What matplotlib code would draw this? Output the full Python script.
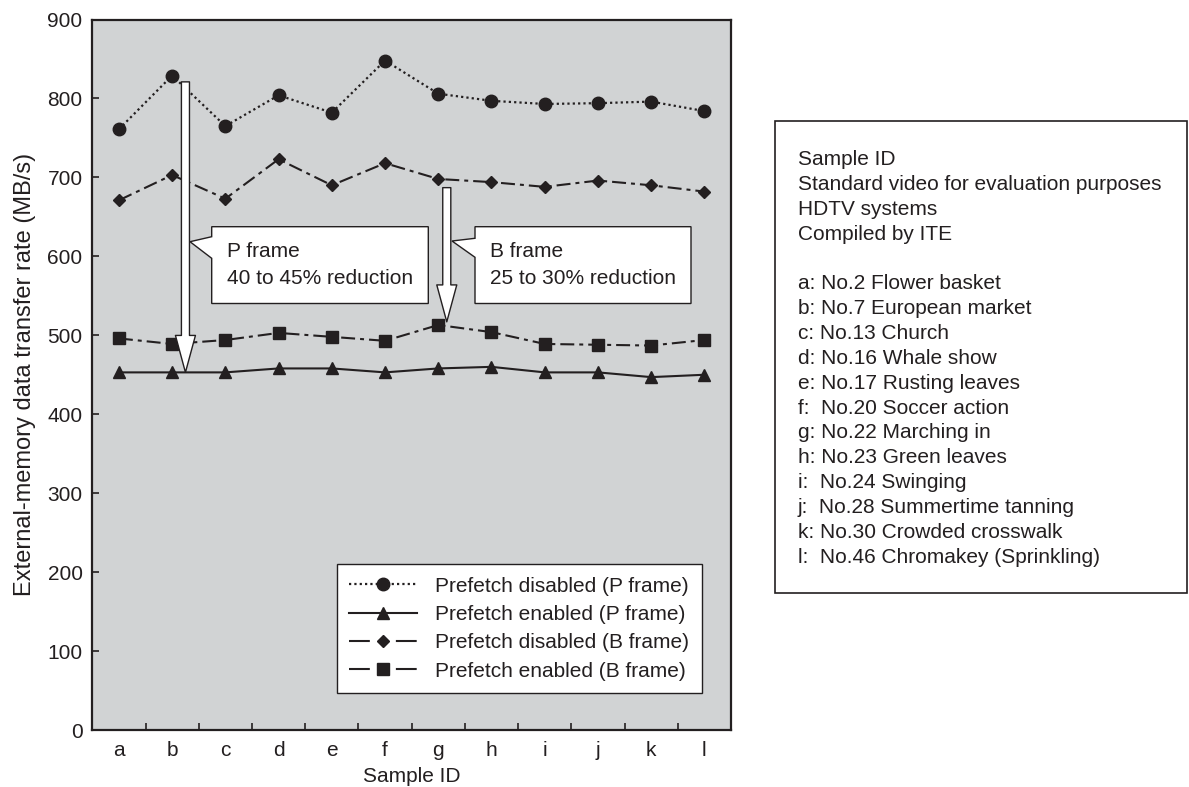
import matplotlib
matplotlib.use("Agg")
import matplotlib.pyplot as plt
import numpy as np
from matplotlib.lines import Line2D
from matplotlib.patches import Polygon, Rectangle

plt.rcParams["font.family"] = ["Liberation Sans", "DejaVu Sans"]

W, H = 1189, 787
INK = "#231f20"
BG = "#d1d3d4"
FS = 15

samples = ["a", "b", "c", "d", "e", "f", "g", "h", "i", "j", "k", "l"]
disabled_p = [761, 829, 765, 804, 782, 848, 806, 797, 793, 794, 796, 784]
enabled_p = [453, 453, 453, 458, 458, 453, 458, 460, 453, 453, 447, 450]
disabled_b = [671, 703, 673, 723, 690, 718, 698, 694, 688, 696, 690, 682]
enabled_b = [496, 489, 494, 503, 498, 493, 513, 504, 489, 488, 487, 494]

labels = [
    "Prefetch disabled (P frame)",
    "Prefetch enabled (P frame)",
    "Prefetch disabled (B frame)",
    "Prefetch enabled (B frame)",
]

info_lines = [
    "Sample ID",
    "Standard video for evaluation purposes",
    "HDTV systems",
    "Compiled by ITE",
    "",
    "a: No.2 Flower basket",
    "b: No.7 European market",
    "c: No.13 Church",
    "d: No.16 Whale show",
    "e: No.17 Rusting leaves",
    "f:  No.20 Soccer action",
    "g: No.22 Marching in",
    "h: No.23 Green leaves",
    "i:  No.24 Swinging",
    "j:  No.28 Summertime tanning",
    "k: No.30 Crowded crosswalk",
    "l:  No.46 Chromakey (Sprinkling)",
]


def px(x, y):
    return (x / W, 1 - y / H)


fig = plt.figure(figsize=(W / 100, H / 100), dpi=100)
ax = fig.add_axes([92.3 / W, 1 - 730 / H, (731 - 92.3) / W, (730 - 19.5) / H])
ax.set_facecolor(BG)

x = np.arange(len(samples))
dash_b = (0, (6.7, 2.4, 1.9, 2.4))
ax.plot(x, disabled_p, color=INK, lw=1.6, linestyle=(0, (1, 1.4)), marker="o", ms=9)
ax.plot(x, enabled_p, color=INK, lw=1.5, linestyle="-", marker="^", ms=8.5)
ax.plot(x, disabled_b, color=INK, lw=1.5, linestyle=dash_b, marker="D", ms=6.5)
ax.plot(x, enabled_b, color=INK, lw=1.5, linestyle=dash_b, marker="s", ms=8)

ax.set_xlim(-0.5, len(samples) - 0.5)
ax.set_ylim(0, 900)
ax.set_yticks(np.arange(0, 901, 100))
ax.set_xticks(x)
ax.set_xticklabels(samples)
ax.set_xticks(x[:-1] + 0.5, minor=True)
ax.tick_params(axis="x", which="major", length=0, pad=8, labelsize=FS, colors=INK)
ax.tick_params(axis="x", which="minor", direction="in", length=5, width=1.2, color=INK)
ax.tick_params(axis="y", direction="in", length=5, width=1.2, pad=7, labelsize=FS, colors=INK)
for sp in ax.spines.values():
    sp.set_linewidth(1.6)
    sp.set_color(INK)

ax.set_xlabel("Sample ID", fontsize=FS, color=INK, labelpad=5)
ax.set_ylabel("External-memory data transfer rate (MB/s)", fontsize=17, color=INK, labelpad=8)

# white reduction arrows
arrow_style = "simple,head_length=2.66,head_width=1.44,tail_width=0.58"
ax.annotate("", xy=(1.25, enabled_p[1]), xytext=(1.25, disabled_p[1] - 8),
            arrowprops=dict(arrowstyle=arrow_style, mutation_scale=10, fc="white",
                            ec=INK, lw=1, shrinkA=0, shrinkB=0), zorder=5)
ax.annotate("", xy=(6.16, enabled_b[6] + 4), xytext=(6.16, disabled_b[6] - 11),
            arrowprops=dict(arrowstyle=arrow_style, mutation_scale=10, fc="white",
                            ec=INK, lw=1, shrinkA=0, shrinkB=0), zorder=5)

# callout boxes
p_call = [(211.7, 226.7), (428.3, 226.7), (428.3, 303.5), (211.7, 303.5),
          (211.7, 258.3), (190, 241.7), (211.7, 236.7)]
b_call = [(475, 226.7), (691, 226.7), (691, 303.5), (475, 303.5),
          (475, 257.3), (452, 241), (475, 238.3)]
for poly in (p_call, b_call):
    fig.patches.append(Polygon([px(a, b) for a, b in poly], closed=True, fc="white",
                               ec=INK, lw=1, transform=fig.transFigure, zorder=6))

for tx, l1, l2 in ((226.7, "P frame", "40 to 45% reduction"),
                   (490, "B frame", "25 to 30% reduction")):
    fig.text(*px(tx, 257), l1, fontsize=FS, color=INK, va="baseline", zorder=7)
    fig.text(*px(tx, 284.5), l2, fontsize=FS, color=INK, va="baseline", zorder=7)

# legend
handles = [
    Line2D([], [], color=INK, lw=1.6, linestyle=(0, (1, 1.4)), marker="o", ms=9),
    Line2D([], [], color=INK, lw=1.5, linestyle="-", marker="^", ms=8.5),
    Line2D([], [], color=INK, lw=1.5, linestyle=(0, (10, 12.5)), marker="D", ms=6.5),
    Line2D([], [], color=INK, lw=1.5, linestyle=(0, (10, 12.5)), marker="s", ms=8),
]
leg = ax.legend(handles, labels, loc="lower right", bbox_to_anchor=(0.954, 0.0517),
                borderaxespad=0, fancybox=False, framealpha=1, edgecolor=INK,
                fontsize=FS, handlelength=3.27, handletextpad=0.86, labelspacing=0.45,
                borderpad=0.6)
leg.get_frame().set_linewidth(1)
for t in leg.get_texts():
    t.set_color(INK)

# sample description box
fig.patches.append(Rectangle(px(775, 593), (1187 - 775) / W, (593 - 120.7) / H,
                             fc="white", ec=INK, lw=1.2, transform=fig.transFigure))
for i, line in enumerate(info_lines):
    fig.text(*px(797.7, 165 + 24.85 * i), line, fontsize=FS, color=INK, va="baseline")

fig.savefig("out.png", dpi=100)
